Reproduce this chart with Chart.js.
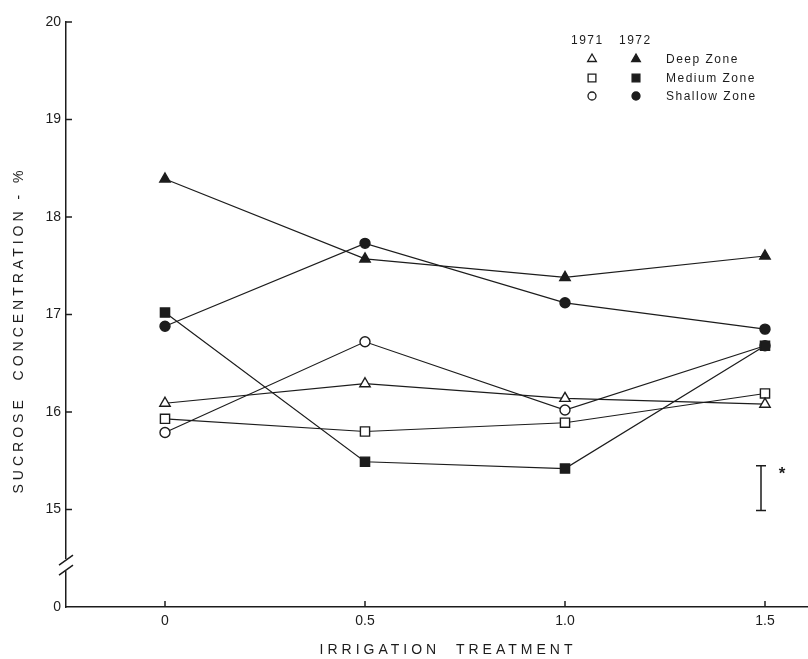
<!DOCTYPE html>
<html>
<head>
<meta charset="utf-8">
<title>Sucrose concentration vs irrigation treatment</title>
<script src="https://cdn.jsdelivr.net/npm/chart.js@4.4.0/dist/chart.umd.min.js"></script>
<style>
  body { margin: 0; background: #fff; }
  canvas { display: block; }
</style>
</head>
<body>
<canvas id="sucroseChart" width="808" height="659"></canvas>
<script>
// treatment levels on the x axis
const treatments = [0, 0.5, 1.0, 1.5];

// 1971 (open markers)
const deep1971 = [16.09, 16.29, 16.14, 16.08];
const medium1971 = [15.93, 15.80, 15.89, 16.19];
const shallow1971 = [15.79, 16.72, 16.02, 16.68];

// 1972 (filled markers)
const deep1972 = [18.39, 17.57, 17.38, 17.60];
const medium1972 = [17.02, 15.49, 15.42, 16.68];
const shallow1972 = [16.88, 17.73, 17.12, 16.85];

// y ticks; 14 is shown as "0" below the axis break
const yTicks = [14, 15, 16, 17, 18, 19, 20];
const xTicks = [0, 0.5, 1.0, 1.5];

// LSD bar drawn near the right edge
const lsdX = 1.49;
const lsdRange = [14.99, 15.45];

const zones = ["Deep Zone", "Medium Zone", "Shallow Zone"];

const ink = "#1c1c1c";
const font = "'Liberation Sans', Arial, sans-serif";

function pts(values) {
  return values.map((v, i) => ({ x: treatments[i], y: v }));
}

function series(label, values, style, radius, filled) {
  return {
    label: label,
    data: pts(values),
    borderColor: ink,
    borderWidth: 1.2,
    pointStyle: style,
    pointRadius: radius,
    pointBorderColor: ink,
    pointBorderWidth: 1.4,
    pointBackgroundColor: filled ? ink : "#fff",
    tension: 0,
    fill: false
  };
}

// dataset 0 is drawn on top
const datasets = [
  series("Medium Zone 1972", medium1972, "rect", 6.5, true),
  series("Deep Zone 1972", deep1972, "triangle", 6, true),
  series("Shallow Zone 1972", shallow1972, "circle", 5, true),
  series("Deep Zone 1971", deep1971, "triangle", 6, false),
  series("Medium Zone 1971", medium1971, "rect", 6.5, false),
  series("Shallow Zone 1971", shallow1971, "circle", 5, false)
];

const decorations = {
  id: "decorations",
  afterDraw(chart) {
    const ctx = chart.ctx;
    const x = chart.scales.x;
    const y = chart.scales.y;
    const area = chart.chartArea;
    ctx.save();
    ctx.strokeStyle = ink;
    ctx.fillStyle = ink;
    ctx.lineWidth = 1.5;

    // inward tick marks
    yTicks.forEach(v => {
      if (v === 14) return;
      const py = y.getPixelForValue(v);
      ctx.beginPath();
      ctx.moveTo(area.left, py);
      ctx.lineTo(area.left + 6, py);
      ctx.stroke();
    });
    xTicks.forEach(v => {
      const px = x.getPixelForValue(v);
      ctx.beginPath();
      ctx.moveTo(px, area.bottom);
      ctx.lineTo(px, area.bottom - 6);
      ctx.stroke();
    });

    // axis break
    const yb = y.getPixelForValue(14.43);
    ctx.fillStyle = "#fff";
    ctx.fillRect(area.left - 3, yb - 6, 6, 12);
    ctx.beginPath();
    ctx.moveTo(area.left - 7, yb);
    ctx.lineTo(area.left + 7, yb - 10);
    ctx.moveTo(area.left - 7, yb + 10);
    ctx.lineTo(area.left + 7, yb);
    ctx.stroke();

    // LSD bar
    const lx = x.getPixelForValue(lsdX);
    const l0 = y.getPixelForValue(lsdRange[0]);
    const l1 = y.getPixelForValue(lsdRange[1]);
    ctx.beginPath();
    ctx.moveTo(lx, l0); ctx.lineTo(lx, l1);
    ctx.moveTo(lx - 5, l0); ctx.lineTo(lx + 5, l0);
    ctx.moveTo(lx - 5, l1); ctx.lineTo(lx + 5, l1);
    ctx.stroke();
    ctx.fillStyle = ink;
    ctx.font = "bold 17px " + font;
    ctx.textAlign = "center";
    ctx.textBaseline = "middle";
    ctx.fillText("*", x.getPixelForValue(1.5425), y.getPixelForValue(15.36));

    // axis titles
    ctx.font = "14px " + font;
    ctx.letterSpacing = "4px";
    ctx.fillText("IRRIGATION  TREATMENT", 448, 650);
    ctx.save();
    ctx.translate(19, 330);
    ctx.rotate(-Math.PI / 2);
    ctx.fillText("SUCROSE  CONCENTRATION - %", 0, 0);
    ctx.restore();

    // legend
    ctx.font = "12px " + font;
    ctx.letterSpacing = "1.5px";
    ctx.textAlign = "left";
    ctx.fillText("1971", 571, 41);
    ctx.fillText("1972", 619, 41);
    const rows = [59, 78, 96];
    const open = [datasets[3], datasets[4], datasets[5]];
    const full = [datasets[1], datasets[0], datasets[2]];
    const legendR = { triangle: 5, rect: 5.5, circle: 4 };
    zones.forEach((z, i) => {
      const ry = rows[i];
      ctx.lineWidth = 1.3;
      ctx.strokeStyle = ink;
      ctx.fillStyle = "#fff";
      Chart.helpers.drawPoint(ctx, { pointStyle: open[i].pointStyle, radius: legendR[open[i].pointStyle], rotation: 0, borderWidth: 1.3 }, 592, ry);
      ctx.fillStyle = ink;
      Chart.helpers.drawPoint(ctx, { pointStyle: full[i].pointStyle, radius: legendR[full[i].pointStyle], rotation: 0, borderWidth: 1.3 }, 636, ry);
      ctx.fillStyle = ink;
      ctx.fillText(z, 666, ry + 1);
    });
    ctx.restore();
  }
};

new Chart(document.getElementById("sucroseChart"), {
  type: "line",
  data: { datasets: datasets },
  options: {
    responsive: false,
    animation: false,
    devicePixelRatio: 1,
    layout: { autoPadding: false, padding: { top: 22, left: 0, right: 0, bottom: 0 } },
    plugins: {
      legend: { display: false },
      tooltip: { enabled: false }
    },
    scales: {
      x: {
        type: "linear",
        min: -0.2475,
        max: 1.6075,
        afterBuildTicks: s => { s.ticks = xTicks.map(v => ({ value: v })); },
        afterFit: s => { s.height = 52; s.paddingLeft = 0; s.paddingRight = 0; },
        grid: { display: false, drawTicks: false },
        border: { color: ink, width: 1.5 },
        ticks: {
          padding: 6,
          color: ink,
          font: { family: font, size: 14 },
          callback: v => (v === 0 ? "0" : v.toFixed(1))
        }
      },
      y: {
        type: "linear",
        min: 14,
        max: 20,
        afterBuildTicks: s => { s.ticks = yTicks.map(v => ({ value: v })); },
        afterFit: s => { s.width = 66; s.paddingTop = 0; s.paddingBottom = 0; },
        grid: { display: false, drawTicks: false },
        border: { color: ink, width: 1.5 },
        ticks: {
          padding: 5,
          color: ink,
          font: { family: font, size: 14 },
          callback: v => (v === 14 ? "0" : String(v))
        }
      }
    }
  },
  plugins: [decorations]
});
</script>
</body>
</html>
